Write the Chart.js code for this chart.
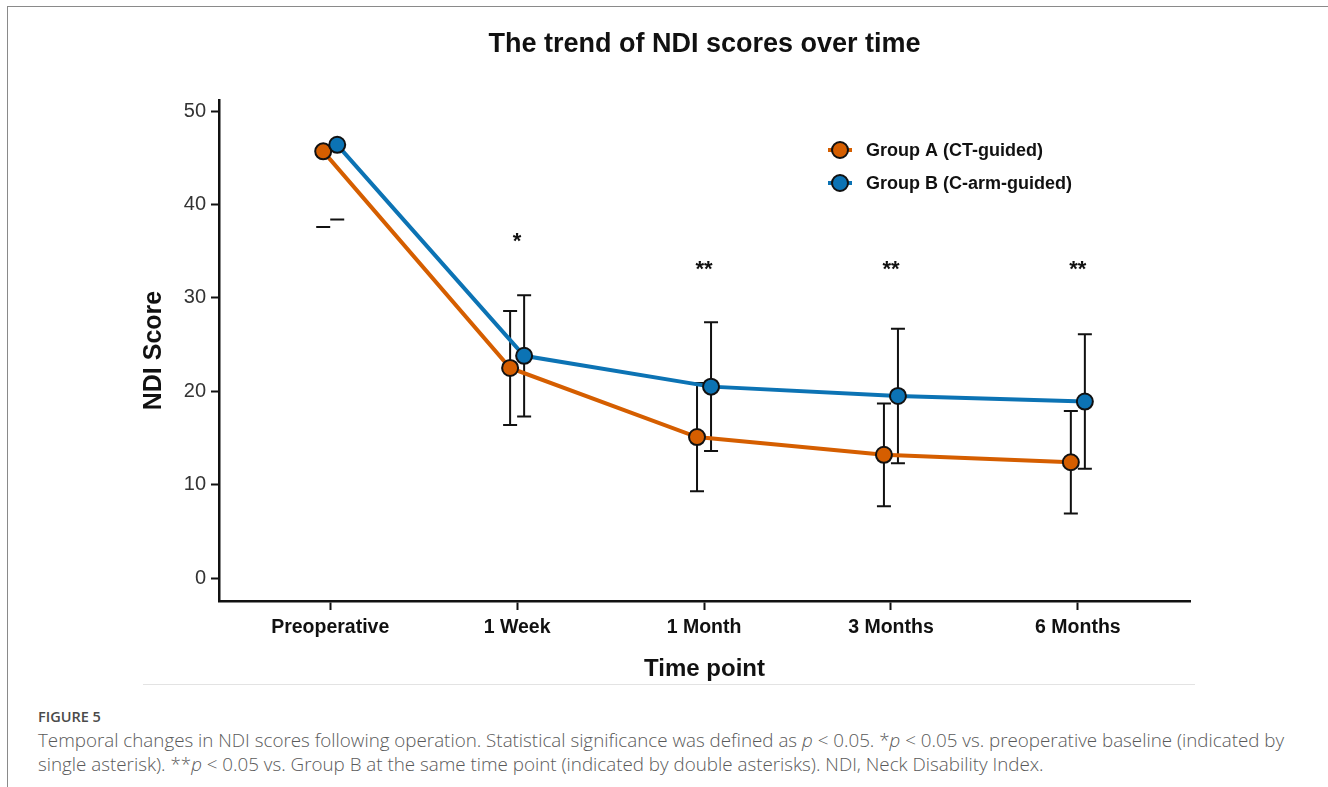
<!DOCTYPE html>
<html>
<head>
<meta charset="utf-8">
<script src="https://cdn.jsdelivr.net/npm/chart.js@4"></script>
<style>
    body { margin: 0; background: #fff; width: 1328px; height: 787px; overflow: hidden; }
    .frame { position: absolute; left: 7px; top: 6px; right: 0; bottom: 0; border-top: 1px solid #8a8a8a; border-left: 1px solid #8a8a8a; }
    #chartBox { position: absolute; left: 0; top: 0; width: 1328px; height: 690px; }
    .rule { position: absolute; left: 143px; top: 684px; width: 1052px; border-top: 1px solid #e3e3e3; }
    .caption { position: absolute; left: 38px; top: 707px; width: 1285px; font-family: 'Open Sans', sans-serif; color: #5a5a5a; white-space: nowrap; }
    .caption .label { font-size: 14.5px; font-weight: 600; color: #4a4a4a; margin-bottom: 2px; }
    .caption p { margin: 0; font-size: 18.8px; line-height: 24px; font-weight: 300; }
</style>
</head>
<body>
<div class="frame"></div>
<div id="chartBox"><canvas id="ndiChart" width="1328" height="690"></canvas></div>
<div class="rule"></div>
<div class="caption">
    <div class="label">FIGURE 5</div>
    <p>Temporal changes in NDI scores following operation. Statistical significance was defined as <i>p</i> &lt; 0.05. *<i>p</i> &lt; 0.05 vs. preoperative baseline (indicated by<br>single asterisk). **<i>p</i> &lt; 0.05 vs. Group B at the same time point (indicated by double asterisks). NDI, Neck Disability Index.</p>
</div>

<script>
    const timePoints = ['Preoperative', '1 Week', '1 Month', '3 Months', '6 Months'];
    const groupA = [45.7, 22.5, 15.1, 13.2, 12.4];
    const groupB = [46.4, 23.8, 20.5, 19.5, 18.9];
    const sdA = [8.1, 6.1, 5.8, 5.5, 5.5];
    const sdB = [8.0, 6.5, 6.9, 7.2, 7.2];
    const yTicks = [0, 10, 20, 30, 40, 50];
    const sigMarks = ['', '*', '**', '**', '**'];
    const sigHeights = [null, 35.4, 32.4, 32.4, 32.4];

    const FONT = "'Liberation Sans', Arial, sans-serif";
    const ORANGE = '#D55E00';
    const BLUE = '#0C73B4';
    const DODGE = 0.0375;

    const groups = [
        { label: 'Group A (CT-guided)', mean: groupA, sd: sdA, color: ORANGE, shift: -DODGE },
        { label: 'Group B (C-arm-guided)', mean: groupB, sd: sdB, color: BLUE, shift: DODGE },
    ];

    // error bars go under the lines; caps that fall above the axis are dropped
    const errorBars = {
        id: 'errorBars',
        beforeDatasetsDraw(chart) {
            const { ctx, scales: { x, y } } = chart;
            const cap = 7;
            ctx.save();
            ctx.strokeStyle = '#111';
            ctx.lineWidth = 2;
            groups.forEach(g => {
                g.mean.forEach((m, i) => {
                    const px = x.getPixelForValue(i + g.shift);
                    const lo = m - g.sd[i];
                    const hi = m + g.sd[i];
                    const pLo = y.getPixelForValue(lo);
                    const pHi = y.getPixelForValue(hi);
                    ctx.beginPath();
                    ctx.moveTo(px - cap, pLo);
                    ctx.lineTo(px + cap, pLo);
                    if (hi <= y.max) {
                        ctx.moveTo(px, pLo);
                        ctx.lineTo(px, pHi);
                        ctx.moveTo(px - cap, pHi);
                        ctx.lineTo(px + cap, pHi);
                    }
                    ctx.stroke();
                });
            });
            ctx.restore();
        }
    };

    const extras = {
        id: 'extras',
        afterDraw(chart) {
            const { ctx, chartArea, scales: { x, y } } = chart;
            ctx.save();

            // title, centred on the plot panel
            ctx.fillStyle = '#111';
            ctx.font = `bold 27px ${FONT}`;
            ctx.textAlign = 'center';
            ctx.textBaseline = 'middle';
            ctx.fillText('The trend of NDI scores over time', (chartArea.left + chartArea.right) / 2, 45);

            // significance marks
            ctx.font = `bold 22px ${FONT}`;
            ctx.textBaseline = 'alphabetic';
            sigMarks.forEach((s, i) => {
                if (!s) return;
                ctx.fillText(s, x.getPixelForValue(i), y.getPixelForValue(sigHeights[i]));
            });

            // legend
            const lx = chartArea.left + 621;
            let ly = chartArea.top + 50;
            ctx.textAlign = 'left';
            ctx.textBaseline = 'middle';
            ctx.font = `bold 18px ${FONT}`;
            groups.forEach(g => {
                ctx.strokeStyle = g.color;
                ctx.lineWidth = 4;
                ctx.beginPath();
                ctx.moveTo(lx - 12, ly);
                ctx.lineTo(lx + 12, ly);
                ctx.stroke();
                ctx.beginPath();
                ctx.arc(lx, ly, 8, 0, Math.PI * 2);
                ctx.fillStyle = g.color;
                ctx.fill();
                ctx.lineWidth = 2;
                ctx.strokeStyle = '#111';
                ctx.stroke();
                ctx.fillStyle = '#111';
                ctx.fillText(g.label, lx + 26, ly + 1);
                ly += 33;
            });
            ctx.restore();
        }
    };

    new Chart(document.getElementById('ndiChart'), {
        type: 'line',
        data: {
            datasets: groups.map((g, gi) => ({
                label: g.label,
                data: g.mean.map((v, i) => ({ x: i + g.shift, y: v })),
                borderColor: g.color,
                backgroundColor: g.color,
                borderWidth: 4,
                tension: 0,
                fill: false,
                pointRadius: 8,
                pointBorderWidth: 2,
                pointBackgroundColor: g.color,
                pointBorderColor: '#111',
                order: 2 - gi,
            }))
        },
        options: {
            responsive: false,
            animation: false,
            layout: { padding: { left: 139, right: 138, top: 100, bottom: 6 } },
            plugins: {
                legend: { display: false },
                tooltip: { enabled: false },
                title: { display: false }
            },
            scales: {
                x: {
                    type: 'linear',
                    min: -0.595,
                    max: 4.6,
                    afterBuildTicks: s => { s.ticks = timePoints.map((t, i) => ({ value: i })); },
                    afterFit: s => { s.height = 83; },
                    grid: { drawOnChartArea: false, drawTicks: true, tickLength: 9, tickWidth: 2, tickColor: '#111' },
                    border: { display: true, color: '#111', width: 2.5 },
                    ticks: {
                        autoSkip: false,
                        maxRotation: 0,
                        padding: 6,
                        color: '#111',
                        font: { family: FONT, size: 19.5, weight: 'bold' },
                        callback: v => timePoints[v] ?? '',
                    },
                    title: {
                        display: true,
                        text: 'Time point',
                        color: '#111',
                        padding: 0,
                        font: { family: FONT, size: 24, weight: 'bold' },
                    }
                },
                y: {
                    min: -2.46,
                    max: 51.2,
                    afterBuildTicks: s => { s.ticks = yTicks.map(v => ({ value: v })); },
                    afterFit: s => { s.width = 80; },
                    grid: { drawOnChartArea: false, drawTicks: true, tickLength: 8, tickWidth: 2, tickColor: '#111' },
                    border: { display: true, color: '#111', width: 2.5 },
                    ticks: {
                        padding: 5,
                        color: '#333',
                        font: { family: FONT, size: 20 },
                    },
                    title: {
                        display: true,
                        text: 'NDI Score',
                        color: '#111',
                        padding: 0,
                        font: { family: FONT, size: 25, weight: 'bold' },
                    }
                }
            }
        },
        plugins: [errorBars, extras]
    });
</script>
</body>
</html>
